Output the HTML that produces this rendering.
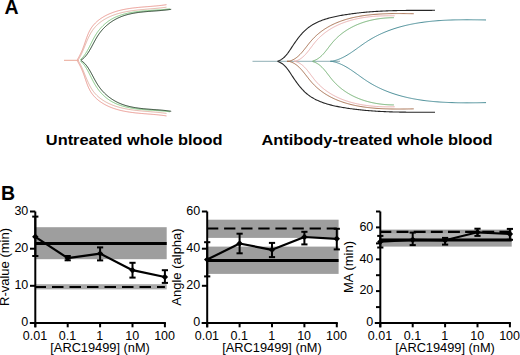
<!DOCTYPE html>
<html><head><meta charset="utf-8"><style>
html,body{margin:0;padding:0;background:#fff;}
body{width:520px;height:355px;overflow:hidden;font-family:"Liberation Sans",sans-serif;}
svg{display:block;}
</style></head><body>
<svg width="520" height="355" viewBox="0 0 520 355">
<text x="4.6" y="13.6" font-size="19.5" font-weight="bold" font-family="Liberation Sans, sans-serif">A</text>
<line x1="64" y1="60.3" x2="79" y2="60.3" stroke="#eaa898" stroke-width="1"/>
<path d="M77.25,59.87 L77.61,59.31 L77.95,58.71 L78.29,58.10 L78.63,57.49 L78.96,56.88 L79.30,56.25 L79.63,55.62 L79.96,54.98 L80.28,54.34 L80.60,53.69 L80.92,53.04 L81.23,52.37 L81.54,51.70 L81.84,51.03 L82.13,50.35 L82.42,49.66 L82.70,48.97 L82.97,48.27 L83.24,47.56 L83.50,46.85 L83.76,46.14 L84.02,45.42 L84.27,44.70 L84.52,43.98 L84.76,43.25 L85.01,42.53 L85.25,41.80 L85.50,41.08 L85.75,40.35 L86.00,39.63 L86.25,38.90 L86.50,38.18 L86.76,37.46 L87.03,36.75 L87.30,36.04 L87.58,35.33 L87.86,34.64 L88.15,33.94 L88.45,33.25 L88.76,32.57 L89.08,31.90 L89.41,31.24 L89.75,30.58 L90.10,29.93 L90.46,29.30 L90.84,28.67 L91.24,28.06 L91.64,27.46 L92.06,26.86 L92.50,26.28 L92.95,25.71 L93.40,25.15 L93.88,24.60 L94.36,24.07 L94.86,23.54 L95.36,23.02 L95.88,22.52 L96.41,22.02 L96.95,21.53 L97.50,21.06 L98.06,20.59 L98.62,20.14 L99.20,19.69 L99.79,19.25 L100.38,18.83 L100.99,18.41 L101.60,18.00 L102.22,17.61 L102.84,17.22 L103.47,16.84 L104.11,16.47 L104.76,16.11 L105.41,15.76 L106.07,15.42 L106.73,15.09 L107.40,14.76 L108.07,14.45 L108.75,14.14 L109.43,13.84 L110.12,13.55 L110.81,13.27 L111.50,13.00 L112.20,12.74 L112.89,12.48 L113.59,12.23 L114.30,11.99 L115.00,11.76 L115.71,11.54 L116.42,11.32 L117.13,11.11 L117.85,10.91 L118.57,10.71 L119.29,10.52 L120.01,10.34 L120.73,10.16 L121.46,9.99 L122.18,9.83 L122.91,9.67 L123.64,9.52 L124.37,9.37 L125.11,9.23 L125.84,9.09 L126.58,8.96 L127.32,8.84 L128.05,8.71 L128.80,8.60 L129.54,8.48 L130.28,8.37 L131.02,8.27 L131.77,8.17 L132.51,8.07 L133.26,7.98 L134.00,7.89 L134.75,7.80 L135.50,7.72 L136.25,7.63 L137.00,7.56 L137.74,7.48 L138.49,7.41 L139.24,7.33 L139.99,7.26 L140.74,7.20 L141.49,7.13 L142.24,7.07 L142.99,7.00 L143.74,6.94 L144.49,6.88 L145.24,6.82 L145.99,6.76 L146.73,6.70 L147.48,6.64 L148.23,6.58 L148.97,6.52 L149.72,6.46 L150.46,6.41 L151.21,6.35 L151.95,6.28 L152.69,6.22 L153.43,6.16 L154.17,6.10 L154.91,6.03 L155.64,5.97 L156.38,5.90 L157.11,5.83 L157.85,5.76 L158.58,5.68 L159.30,5.60 L160.03,5.53 L160.76,5.44 L161.48,5.36 L162.20,5.27 L162.92,5.18 L163.64,5.09 L164.35,4.99 L165.07,4.89 L165.78,4.78 L166.48,4.67" fill="none" stroke="#e89088" stroke-width="0.9"/>
<path d="M77.25,60.73 L77.61,61.29 L77.95,61.89 L78.29,62.50 L78.63,63.11 L78.96,63.72 L79.30,64.35 L79.63,64.98 L79.96,65.62 L80.28,66.26 L80.60,66.91 L80.92,67.56 L81.23,68.23 L81.54,68.90 L81.84,69.57 L82.13,70.25 L82.42,70.94 L82.70,71.63 L82.97,72.33 L83.24,73.04 L83.50,73.75 L83.76,74.46 L84.02,75.18 L84.27,75.90 L84.52,76.62 L84.76,77.35 L85.01,78.07 L85.25,78.80 L85.50,79.52 L85.75,80.25 L86.00,80.97 L86.25,81.70 L86.50,82.42 L86.76,83.14 L87.03,83.85 L87.30,84.56 L87.58,85.27 L87.86,85.96 L88.15,86.66 L88.45,87.35 L88.76,88.03 L89.08,88.70 L89.41,89.36 L89.75,90.02 L90.10,90.67 L90.46,91.30 L90.84,91.93 L91.24,92.54 L91.64,93.14 L92.06,93.74 L92.50,94.32 L92.95,94.89 L93.40,95.45 L93.88,96.00 L94.36,96.53 L94.86,97.06 L95.36,97.58 L95.88,98.08 L96.41,98.58 L96.95,99.07 L97.50,99.54 L98.06,100.01 L98.62,100.46 L99.20,100.91 L99.79,101.35 L100.38,101.77 L100.99,102.19 L101.60,102.60 L102.22,102.99 L102.84,103.38 L103.47,103.76 L104.11,104.13 L104.76,104.49 L105.41,104.84 L106.07,105.18 L106.73,105.51 L107.40,105.84 L108.07,106.15 L108.75,106.46 L109.43,106.76 L110.12,107.05 L110.81,107.33 L111.50,107.60 L112.20,107.86 L112.89,108.12 L113.59,108.37 L114.30,108.61 L115.00,108.84 L115.71,109.06 L116.42,109.28 L117.13,109.49 L117.85,109.69 L118.57,109.89 L119.29,110.08 L120.01,110.26 L120.73,110.44 L121.46,110.61 L122.18,110.77 L122.91,110.93 L123.64,111.08 L124.37,111.23 L125.11,111.37 L125.84,111.51 L126.58,111.64 L127.32,111.76 L128.05,111.89 L128.80,112.00 L129.54,112.12 L130.28,112.23 L131.02,112.33 L131.77,112.43 L132.51,112.53 L133.26,112.62 L134.00,112.71 L134.75,112.80 L135.50,112.88 L136.25,112.97 L137.00,113.04 L137.74,113.12 L138.49,113.19 L139.24,113.27 L139.99,113.34 L140.74,113.40 L141.49,113.47 L142.24,113.53 L142.99,113.60 L143.74,113.66 L144.49,113.72 L145.24,113.78 L145.99,113.84 L146.73,113.90 L147.48,113.96 L148.23,114.02 L148.97,114.08 L149.72,114.14 L150.46,114.19 L151.21,114.25 L151.95,114.32 L152.69,114.38 L153.43,114.44 L154.17,114.50 L154.91,114.57 L155.64,114.63 L156.38,114.70 L157.11,114.77 L157.85,114.84 L158.58,114.92 L159.30,115.00 L160.03,115.07 L160.76,115.16 L161.48,115.24 L162.20,115.33 L162.92,115.42 L163.64,115.51 L164.35,115.61 L165.07,115.71 L165.78,115.82 L166.48,115.93" fill="none" stroke="#e89088" stroke-width="0.9"/>
<path d="M78.25,59.77 L78.61,59.21 L78.96,58.64 L79.30,58.06 L79.64,57.47 L79.97,56.88 L80.29,56.27 L80.61,55.66 L80.92,55.04 L81.23,54.41 L81.53,53.77 L81.82,53.13 L82.12,52.49 L82.41,51.83 L82.70,51.18 L82.98,50.51 L83.26,49.85 L83.54,49.18 L83.82,48.50 L84.10,47.83 L84.38,47.15 L84.65,46.47 L84.93,45.79 L85.21,45.11 L85.49,44.42 L85.77,43.74 L86.05,43.06 L86.33,42.38 L86.62,41.69 L86.91,41.01 L87.20,40.34 L87.50,39.66 L87.80,38.99 L88.10,38.32 L88.42,37.66 L88.73,36.99 L89.05,36.34 L89.38,35.69 L89.72,35.04 L90.06,34.40 L90.41,33.77 L90.76,33.14 L91.13,32.52 L91.50,31.91 L91.89,31.31 L92.28,30.71 L92.68,30.12 L93.09,29.55 L93.52,28.98 L93.95,28.42 L94.40,27.88 L94.85,27.34 L95.32,26.81 L95.79,26.30 L96.28,25.79 L96.78,25.29 L97.28,24.81 L97.79,24.33 L98.32,23.86 L98.85,23.40 L99.39,22.95 L99.94,22.51 L100.50,22.08 L101.06,21.66 L101.63,21.25 L102.21,20.85 L102.80,20.45 L103.39,20.07 L104.00,19.69 L104.60,19.33 L105.22,18.97 L105.84,18.62 L106.46,18.28 L107.09,17.95 L107.73,17.62 L108.37,17.31 L109.02,17.00 L109.67,16.70 L110.32,16.41 L110.98,16.12 L111.65,15.85 L112.31,15.58 L112.99,15.32 L113.66,15.07 L114.34,14.83 L115.02,14.59 L115.71,14.36 L116.39,14.14 L117.08,13.92 L117.78,13.71 L118.48,13.51 L119.18,13.31 L119.88,13.13 L120.58,12.94 L121.29,12.76 L122.00,12.59 L122.71,12.43 L123.43,12.27 L124.14,12.11 L124.86,11.96 L125.58,11.82 L126.30,11.68 L127.03,11.54 L127.75,11.41 L128.48,11.29 L129.21,11.16 L129.94,11.05 L130.67,10.93 L131.40,10.82 L132.13,10.72 L132.86,10.62 L133.60,10.52 L134.33,10.42 L135.07,10.33 L135.81,10.24 L136.54,10.16 L137.28,10.07 L138.01,9.99 L138.75,9.91 L139.49,9.84 L140.22,9.76 L140.96,9.69 L141.70,9.62 L142.43,9.55 L143.17,9.49 L143.90,9.42 L144.63,9.36 L145.37,9.29 L146.10,9.23 L146.83,9.17 L147.56,9.11 L148.29,9.05 L149.01,8.99 L149.74,8.93 L150.46,8.87 L151.19,8.81 L151.91,8.75 L152.63,8.69 L153.34,8.63 L154.06,8.57 L154.77,8.50 L155.48,8.44 L156.19,8.38 L156.89,8.31 L157.60,8.24 L158.30,8.17 L159.00,8.10 L159.69,8.03 L160.38,7.96 L161.07,7.88 L161.76,7.80 L162.44,7.72 L163.12,7.63 L163.79,7.55 L164.47,7.46 L165.13,7.37 L165.80,7.27 L166.46,7.17" fill="none" stroke="#dca898" stroke-width="0.9"/>
<path d="M78.25,60.83 L78.61,61.39 L78.96,61.96 L79.30,62.54 L79.64,63.13 L79.97,63.72 L80.29,64.33 L80.61,64.94 L80.92,65.56 L81.23,66.19 L81.53,66.83 L81.82,67.47 L82.12,68.11 L82.41,68.77 L82.70,69.42 L82.98,70.09 L83.26,70.75 L83.54,71.42 L83.82,72.10 L84.10,72.77 L84.38,73.45 L84.65,74.13 L84.93,74.81 L85.21,75.49 L85.49,76.18 L85.77,76.86 L86.05,77.54 L86.33,78.22 L86.62,78.91 L86.91,79.59 L87.20,80.26 L87.50,80.94 L87.80,81.61 L88.10,82.28 L88.42,82.94 L88.73,83.61 L89.05,84.26 L89.38,84.91 L89.72,85.56 L90.06,86.20 L90.41,86.83 L90.76,87.46 L91.13,88.08 L91.50,88.69 L91.89,89.29 L92.28,89.89 L92.68,90.48 L93.09,91.05 L93.52,91.62 L93.95,92.18 L94.40,92.72 L94.85,93.26 L95.32,93.79 L95.79,94.30 L96.28,94.81 L96.78,95.31 L97.28,95.79 L97.79,96.27 L98.32,96.74 L98.85,97.20 L99.39,97.65 L99.94,98.09 L100.50,98.52 L101.06,98.94 L101.63,99.35 L102.21,99.75 L102.80,100.15 L103.39,100.53 L104.00,100.91 L104.60,101.27 L105.22,101.63 L105.84,101.98 L106.46,102.32 L107.09,102.65 L107.73,102.98 L108.37,103.29 L109.02,103.60 L109.67,103.90 L110.32,104.19 L110.98,104.48 L111.65,104.75 L112.31,105.02 L112.99,105.28 L113.66,105.53 L114.34,105.77 L115.02,106.01 L115.71,106.24 L116.39,106.46 L117.08,106.68 L117.78,106.89 L118.48,107.09 L119.18,107.29 L119.88,107.47 L120.58,107.66 L121.29,107.84 L122.00,108.01 L122.71,108.17 L123.43,108.33 L124.14,108.49 L124.86,108.64 L125.58,108.78 L126.30,108.92 L127.03,109.06 L127.75,109.19 L128.48,109.31 L129.21,109.44 L129.94,109.55 L130.67,109.67 L131.40,109.78 L132.13,109.88 L132.86,109.98 L133.60,110.08 L134.33,110.18 L135.07,110.27 L135.81,110.36 L136.54,110.44 L137.28,110.53 L138.01,110.61 L138.75,110.69 L139.49,110.76 L140.22,110.84 L140.96,110.91 L141.70,110.98 L142.43,111.05 L143.17,111.11 L143.90,111.18 L144.63,111.24 L145.37,111.31 L146.10,111.37 L146.83,111.43 L147.56,111.49 L148.29,111.55 L149.01,111.61 L149.74,111.67 L150.46,111.73 L151.19,111.79 L151.91,111.85 L152.63,111.91 L153.34,111.97 L154.06,112.03 L154.77,112.10 L155.48,112.16 L156.19,112.22 L156.89,112.29 L157.60,112.36 L158.30,112.43 L159.00,112.50 L159.69,112.57 L160.38,112.64 L161.07,112.72 L161.76,112.80 L162.44,112.88 L163.12,112.97 L163.79,113.05 L164.47,113.14 L165.13,113.23 L165.80,113.33 L166.46,113.43" fill="none" stroke="#dca898" stroke-width="0.9"/>
<path d="M80.10,59.88 L80.62,59.45 L81.12,59.00 L81.61,58.53 L82.08,58.05 L82.54,57.55 L82.99,57.04 L83.43,56.52 L83.85,55.98 L84.27,55.43 L84.68,54.87 L85.07,54.31 L85.46,53.73 L85.84,53.14 L86.21,52.54 L86.58,51.94 L86.94,51.33 L87.29,50.71 L87.64,50.09 L87.99,49.46 L88.33,48.82 L88.67,48.19 L89.00,47.54 L89.34,46.90 L89.67,46.25 L90.00,45.59 L90.32,44.94 L90.65,44.28 L90.98,43.62 L91.31,42.97 L91.64,42.31 L91.97,41.65 L92.30,40.99 L92.64,40.34 L92.98,39.69 L93.32,39.03 L93.67,38.39 L94.02,37.74 L94.38,37.10 L94.74,36.46 L95.11,35.83 L95.49,35.21 L95.87,34.59 L96.27,33.97 L96.66,33.36 L97.07,32.76 L97.49,32.17 L97.91,31.58 L98.34,31.00 L98.78,30.43 L99.22,29.87 L99.68,29.31 L100.14,28.76 L100.61,28.22 L101.08,27.68 L101.57,27.16 L102.06,26.64 L102.55,26.13 L103.06,25.63 L103.57,25.14 L104.09,24.66 L104.61,24.18 L105.15,23.72 L105.69,23.26 L106.23,22.81 L106.79,22.38 L107.35,21.95 L107.91,21.53 L108.49,21.12 L109.07,20.72 L109.65,20.33 L110.24,19.95 L110.84,19.59 L111.45,19.23 L112.06,18.88 L112.68,18.54 L113.30,18.21 L113.93,17.89 L114.56,17.58 L115.20,17.28 L115.85,16.99 L116.50,16.71 L117.15,16.44 L117.81,16.17 L118.48,15.92 L119.15,15.67 L119.82,15.43 L120.50,15.20 L121.18,14.97 L121.87,14.75 L122.56,14.54 L123.26,14.34 L123.95,14.15 L124.66,13.96 L125.36,13.78 L126.07,13.60 L126.78,13.43 L127.49,13.27 L128.21,13.11 L128.93,12.96 L129.65,12.82 L130.38,12.68 L131.11,12.55 L131.83,12.42 L132.57,12.30 L133.30,12.18 L134.03,12.06 L134.77,11.96 L135.51,11.85 L136.25,11.75 L136.99,11.65 L137.73,11.56 L138.47,11.47 L139.21,11.39 L139.96,11.31 L140.70,11.23 L141.45,11.16 L142.19,11.08 L142.94,11.01 L143.68,10.95 L144.43,10.88 L145.17,10.82 L145.91,10.76 L146.66,10.70 L147.40,10.65 L148.14,10.59 L148.88,10.54 L149.62,10.49 L150.36,10.44 L151.10,10.39 L151.83,10.34 L152.57,10.29 L153.30,10.24 L154.03,10.20 L154.75,10.15 L155.48,10.10 L156.20,10.05 L156.92,10.01 L157.64,9.96 L158.36,9.91 L159.07,9.86 L159.78,9.81 L160.48,9.76 L161.18,9.70 L161.88,9.65 L162.58,9.59 L163.27,9.53 L163.96,9.47 L164.64,9.41 L165.32,9.34 L166.00,9.27 L166.67,9.20 L167.33,9.13 L167.99,9.05 L168.65,8.97 L169.30,8.89 L169.95,8.80" fill="none" stroke="#80c880" stroke-width="1.0"/>
<path d="M80.10,60.72 L80.62,61.15 L81.12,61.60 L81.61,62.07 L82.08,62.55 L82.54,63.05 L82.99,63.56 L83.43,64.08 L83.85,64.62 L84.27,65.17 L84.68,65.73 L85.07,66.29 L85.46,66.87 L85.84,67.46 L86.21,68.06 L86.58,68.66 L86.94,69.27 L87.29,69.89 L87.64,70.51 L87.99,71.14 L88.33,71.78 L88.67,72.41 L89.00,73.06 L89.34,73.70 L89.67,74.35 L90.00,75.01 L90.32,75.66 L90.65,76.32 L90.98,76.98 L91.31,77.63 L91.64,78.29 L91.97,78.95 L92.30,79.61 L92.64,80.26 L92.98,80.91 L93.32,81.57 L93.67,82.21 L94.02,82.86 L94.38,83.50 L94.74,84.14 L95.11,84.77 L95.49,85.39 L95.87,86.01 L96.27,86.63 L96.66,87.24 L97.07,87.84 L97.49,88.43 L97.91,89.02 L98.34,89.60 L98.78,90.17 L99.22,90.73 L99.68,91.29 L100.14,91.84 L100.61,92.38 L101.08,92.92 L101.57,93.44 L102.06,93.96 L102.55,94.47 L103.06,94.97 L103.57,95.46 L104.09,95.94 L104.61,96.42 L105.15,96.88 L105.69,97.34 L106.23,97.79 L106.79,98.22 L107.35,98.65 L107.91,99.07 L108.49,99.48 L109.07,99.88 L109.65,100.27 L110.24,100.65 L110.84,101.01 L111.45,101.37 L112.06,101.72 L112.68,102.06 L113.30,102.39 L113.93,102.71 L114.56,103.02 L115.20,103.32 L115.85,103.61 L116.50,103.89 L117.15,104.16 L117.81,104.43 L118.48,104.68 L119.15,104.93 L119.82,105.17 L120.50,105.40 L121.18,105.63 L121.87,105.85 L122.56,106.06 L123.26,106.26 L123.95,106.45 L124.66,106.64 L125.36,106.82 L126.07,107.00 L126.78,107.17 L127.49,107.33 L128.21,107.49 L128.93,107.64 L129.65,107.78 L130.38,107.92 L131.11,108.05 L131.83,108.18 L132.57,108.30 L133.30,108.42 L134.03,108.54 L134.77,108.64 L135.51,108.75 L136.25,108.85 L136.99,108.95 L137.73,109.04 L138.47,109.13 L139.21,109.21 L139.96,109.29 L140.70,109.37 L141.45,109.44 L142.19,109.52 L142.94,109.59 L143.68,109.65 L144.43,109.72 L145.17,109.78 L145.91,109.84 L146.66,109.90 L147.40,109.95 L148.14,110.01 L148.88,110.06 L149.62,110.11 L150.36,110.16 L151.10,110.21 L151.83,110.26 L152.57,110.31 L153.30,110.36 L154.03,110.40 L154.75,110.45 L155.48,110.50 L156.20,110.55 L156.92,110.59 L157.64,110.64 L158.36,110.69 L159.07,110.74 L159.78,110.79 L160.48,110.84 L161.18,110.90 L161.88,110.95 L162.58,111.01 L163.27,111.07 L163.96,111.13 L164.64,111.19 L165.32,111.26 L166.00,111.33 L166.67,111.40 L167.33,111.47 L167.99,111.55 L168.65,111.63 L169.30,111.71 L169.95,111.80" fill="none" stroke="#80c880" stroke-width="1.0"/>
<path d="M81.12,60.00 L81.70,59.64 L82.25,59.25 L82.79,58.84 L83.31,58.41 L83.82,57.96 L84.31,57.49 L84.79,57.01 L85.25,56.51 L85.70,55.99 L86.13,55.46 L86.56,54.92 L86.98,54.36 L87.38,53.80 L87.78,53.22 L88.17,52.64 L88.55,52.05 L88.93,51.45 L89.30,50.84 L89.67,50.23 L90.03,49.62 L90.38,49.00 L90.74,48.37 L91.09,47.74 L91.43,47.11 L91.78,46.47 L92.12,45.84 L92.46,45.20 L92.80,44.55 L93.15,43.91 L93.49,43.27 L93.83,42.63 L94.17,41.99 L94.52,41.34 L94.87,40.70 L95.22,40.07 L95.58,39.43 L95.94,38.80 L96.30,38.17 L96.67,37.55 L97.04,36.93 L97.43,36.31 L97.81,35.70 L98.21,35.10 L98.61,34.50 L99.02,33.91 L99.44,33.32 L99.87,32.75 L100.30,32.18 L100.75,31.62 L101.20,31.06 L101.66,30.51 L102.12,29.97 L102.60,29.44 L103.08,28.92 L103.57,28.40 L104.07,27.89 L104.57,27.39 L105.08,26.89 L105.60,26.41 L106.13,25.93 L106.66,25.46 L107.19,25.00 L107.74,24.54 L108.29,24.10 L108.85,23.66 L109.41,23.23 L109.98,22.81 L110.55,22.39 L111.13,21.99 L111.72,21.59 L112.31,21.20 L112.91,20.82 L113.51,20.45 L114.11,20.09 L114.73,19.73 L115.34,19.39 L115.97,19.05 L116.59,18.72 L117.22,18.40 L117.86,18.09 L118.50,17.79 L119.14,17.50 L119.79,17.22 L120.44,16.95 L121.09,16.68 L121.75,16.42 L122.42,16.18 L123.08,15.94 L123.75,15.71 L124.43,15.49 L125.10,15.27 L125.78,15.07 L126.46,14.87 L127.15,14.68 L127.84,14.49 L128.53,14.32 L129.22,14.15 L129.92,13.98 L130.61,13.83 L131.32,13.67 L132.02,13.53 L132.72,13.39 L133.43,13.26 L134.14,13.13 L134.85,13.01 L135.56,12.89 L136.28,12.78 L136.99,12.67 L137.71,12.57 L138.43,12.47 L139.15,12.37 L139.87,12.28 L140.59,12.20 L141.31,12.11 L142.03,12.03 L142.76,11.96 L143.48,11.88 L144.21,11.81 L144.93,11.74 L145.66,11.68 L146.39,11.61 L147.11,11.55 L147.84,11.49 L148.57,11.43 L149.29,11.37 L150.02,11.32 L150.74,11.27 L151.47,11.21 L152.19,11.16 L152.92,11.11 L153.64,11.05 L154.36,11.00 L155.08,10.95 L155.80,10.90 L156.52,10.85 L157.24,10.79 L157.96,10.74 L158.67,10.68 L159.38,10.63 L160.09,10.57 L160.80,10.51 L161.51,10.45 L162.22,10.39 L162.92,10.32 L163.62,10.25 L164.32,10.18 L165.02,10.11 L165.72,10.03 L166.41,9.95 L167.10,9.87 L167.78,9.79 L168.47,9.70 L169.15,9.60 L169.83,9.51 L170.50,9.40 L171.17,9.30" fill="none" stroke="#1e3a22" stroke-width="1.0"/>
<path d="M81.12,60.60 L81.70,60.96 L82.25,61.35 L82.79,61.76 L83.31,62.19 L83.82,62.64 L84.31,63.11 L84.79,63.59 L85.25,64.09 L85.70,64.61 L86.13,65.14 L86.56,65.68 L86.98,66.24 L87.38,66.80 L87.78,67.38 L88.17,67.96 L88.55,68.55 L88.93,69.15 L89.30,69.76 L89.67,70.37 L90.03,70.98 L90.38,71.60 L90.74,72.23 L91.09,72.86 L91.43,73.49 L91.78,74.13 L92.12,74.76 L92.46,75.40 L92.80,76.05 L93.15,76.69 L93.49,77.33 L93.83,77.97 L94.17,78.61 L94.52,79.26 L94.87,79.90 L95.22,80.53 L95.58,81.17 L95.94,81.80 L96.30,82.43 L96.67,83.05 L97.04,83.67 L97.43,84.29 L97.81,84.90 L98.21,85.50 L98.61,86.10 L99.02,86.69 L99.44,87.28 L99.87,87.85 L100.30,88.42 L100.75,88.98 L101.20,89.54 L101.66,90.09 L102.12,90.63 L102.60,91.16 L103.08,91.68 L103.57,92.20 L104.07,92.71 L104.57,93.21 L105.08,93.71 L105.60,94.19 L106.13,94.67 L106.66,95.14 L107.19,95.60 L107.74,96.06 L108.29,96.50 L108.85,96.94 L109.41,97.37 L109.98,97.79 L110.55,98.21 L111.13,98.61 L111.72,99.01 L112.31,99.40 L112.91,99.78 L113.51,100.15 L114.11,100.51 L114.73,100.87 L115.34,101.21 L115.97,101.55 L116.59,101.88 L117.22,102.20 L117.86,102.51 L118.50,102.81 L119.14,103.10 L119.79,103.38 L120.44,103.65 L121.09,103.92 L121.75,104.18 L122.42,104.42 L123.08,104.66 L123.75,104.89 L124.43,105.11 L125.10,105.33 L125.78,105.53 L126.46,105.73 L127.15,105.92 L127.84,106.11 L128.53,106.28 L129.22,106.45 L129.92,106.62 L130.61,106.77 L131.32,106.93 L132.02,107.07 L132.72,107.21 L133.43,107.34 L134.14,107.47 L134.85,107.59 L135.56,107.71 L136.28,107.82 L136.99,107.93 L137.71,108.03 L138.43,108.13 L139.15,108.23 L139.87,108.32 L140.59,108.40 L141.31,108.49 L142.03,108.57 L142.76,108.64 L143.48,108.72 L144.21,108.79 L144.93,108.86 L145.66,108.92 L146.39,108.99 L147.11,109.05 L147.84,109.11 L148.57,109.17 L149.29,109.23 L150.02,109.28 L150.74,109.33 L151.47,109.39 L152.19,109.44 L152.92,109.49 L153.64,109.55 L154.36,109.60 L155.08,109.65 L155.80,109.70 L156.52,109.75 L157.24,109.81 L157.96,109.86 L158.67,109.92 L159.38,109.97 L160.09,110.03 L160.80,110.09 L161.51,110.15 L162.22,110.21 L162.92,110.28 L163.62,110.35 L164.32,110.42 L165.02,110.49 L165.72,110.57 L166.41,110.65 L167.10,110.73 L167.78,110.81 L168.47,110.90 L169.15,111.00 L169.83,111.09 L170.50,111.20 L171.17,111.30" fill="none" stroke="#1e3a22" stroke-width="1.0"/>
<line x1="252.5" y1="61.3" x2="340" y2="61.3" stroke="#90b0b6" stroke-width="1"/>
<path d="M330.43,61.30 L331.49,61.29 L332.53,61.10 L333.56,60.88 L334.57,60.63 L335.58,60.35 L336.58,60.05 L337.56,59.72 L338.54,59.36 L339.51,58.98 L340.47,58.58 L341.42,58.15 L342.36,57.71 L343.30,57.25 L344.23,56.77 L345.15,56.27 L346.06,55.75 L346.97,55.22 L347.88,54.68 L348.78,54.12 L349.68,53.55 L350.57,52.97 L351.46,52.38 L352.34,51.78 L353.22,51.17 L354.10,50.56 L354.98,49.94 L355.86,49.32 L356.74,48.69 L357.61,48.06 L358.49,47.43 L359.36,46.80 L360.24,46.17 L361.12,45.54 L361.99,44.92 L362.87,44.30 L363.76,43.68 L364.64,43.07 L365.53,42.47 L366.43,41.87 L367.32,41.29 L368.23,40.71 L369.13,40.15 L370.04,39.59 L370.96,39.05 L371.88,38.51 L372.80,37.99 L373.73,37.47 L374.66,36.96 L375.59,36.47 L376.53,35.98 L377.48,35.50 L378.42,35.03 L379.37,34.57 L380.33,34.12 L381.29,33.68 L382.25,33.25 L383.21,32.83 L384.18,32.41 L385.15,32.01 L386.13,31.61 L387.11,31.22 L388.09,30.84 L389.08,30.46 L390.07,30.10 L391.06,29.74 L392.05,29.40 L393.05,29.05 L394.05,28.72 L395.05,28.40 L396.06,28.08 L397.07,27.77 L398.08,27.47 L399.10,27.17 L400.11,26.89 L401.13,26.61 L402.16,26.33 L403.18,26.07 L404.21,25.81 L405.24,25.56 L406.27,25.31 L407.30,25.07 L408.34,24.84 L409.38,24.62 L410.42,24.40 L411.46,24.19 L412.51,23.98 L413.55,23.78 L414.60,23.59 L415.65,23.40 L416.70,23.22 L417.75,23.04 L418.81,22.87 L419.86,22.71 L420.92,22.55 L421.98,22.40 L423.04,22.25 L424.10,22.10 L425.17,21.97 L426.23,21.83 L427.30,21.71 L428.36,21.59 L429.43,21.47 L430.50,21.36 L431.57,21.25 L432.64,21.14 L433.71,21.05 L434.78,20.95 L435.85,20.86 L436.93,20.78 L438.00,20.70 L439.08,20.62 L440.15,20.55 L441.23,20.48 L442.30,20.41 L443.38,20.35 L444.45,20.29 L445.53,20.24 L446.61,20.19 L447.68,20.14 L448.76,20.09 L449.84,20.05 L450.91,20.02 L451.99,19.98 L453.07,19.95 L454.14,19.92 L455.22,19.89 L456.29,19.87 L457.37,19.85 L458.44,19.83 L459.51,19.82 L460.59,19.80 L461.66,19.79 L462.73,19.78 L463.80,19.78 L464.87,19.77 L465.94,19.77 L467.01,19.77 L468.08,19.77 L469.15,19.77 L470.21,19.78 L471.28,19.78 L472.34,19.79 L473.40,19.80 L474.46,19.81 L475.52,19.82 L476.58,19.83 L477.63,19.84 L478.69,19.86 L479.74,19.87 L480.79,19.89 L481.84,19.90 L482.89,19.92 L483.94,19.93 L484.98,19.95 L486.02,19.97" fill="none" stroke="#4a8e98" stroke-width="1.0"/>
<path d="M330.43,61.30 L331.49,61.31 L332.53,61.50 L333.56,61.72 L334.57,61.97 L335.58,62.25 L336.58,62.55 L337.56,62.88 L338.54,63.24 L339.51,63.62 L340.47,64.02 L341.42,64.45 L342.36,64.89 L343.30,65.35 L344.23,65.83 L345.15,66.33 L346.06,66.85 L346.97,67.38 L347.88,67.92 L348.78,68.48 L349.68,69.05 L350.57,69.63 L351.46,70.22 L352.34,70.82 L353.22,71.43 L354.10,72.04 L354.98,72.66 L355.86,73.28 L356.74,73.91 L357.61,74.54 L358.49,75.17 L359.36,75.80 L360.24,76.43 L361.12,77.06 L361.99,77.68 L362.87,78.30 L363.76,78.92 L364.64,79.53 L365.53,80.13 L366.43,80.73 L367.32,81.31 L368.23,81.89 L369.13,82.45 L370.04,83.01 L370.96,83.55 L371.88,84.09 L372.80,84.61 L373.73,85.13 L374.66,85.64 L375.59,86.13 L376.53,86.62 L377.48,87.10 L378.42,87.57 L379.37,88.03 L380.33,88.48 L381.29,88.92 L382.25,89.35 L383.21,89.77 L384.18,90.19 L385.15,90.59 L386.13,90.99 L387.11,91.38 L388.09,91.76 L389.08,92.14 L390.07,92.50 L391.06,92.86 L392.05,93.20 L393.05,93.55 L394.05,93.88 L395.05,94.20 L396.06,94.52 L397.07,94.83 L398.08,95.13 L399.10,95.43 L400.11,95.71 L401.13,95.99 L402.16,96.27 L403.18,96.53 L404.21,96.79 L405.24,97.04 L406.27,97.29 L407.30,97.53 L408.34,97.76 L409.38,97.98 L410.42,98.20 L411.46,98.41 L412.51,98.62 L413.55,98.82 L414.60,99.01 L415.65,99.20 L416.70,99.38 L417.75,99.56 L418.81,99.73 L419.86,99.89 L420.92,100.05 L421.98,100.20 L423.04,100.35 L424.10,100.50 L425.17,100.63 L426.23,100.77 L427.30,100.89 L428.36,101.01 L429.43,101.13 L430.50,101.24 L431.57,101.35 L432.64,101.46 L433.71,101.55 L434.78,101.65 L435.85,101.74 L436.93,101.82 L438.00,101.90 L439.08,101.98 L440.15,102.05 L441.23,102.12 L442.30,102.19 L443.38,102.25 L444.45,102.31 L445.53,102.36 L446.61,102.41 L447.68,102.46 L448.76,102.51 L449.84,102.55 L450.91,102.58 L451.99,102.62 L453.07,102.65 L454.14,102.68 L455.22,102.71 L456.29,102.73 L457.37,102.75 L458.44,102.77 L459.51,102.78 L460.59,102.80 L461.66,102.81 L462.73,102.82 L463.80,102.82 L464.87,102.83 L465.94,102.83 L467.01,102.83 L468.08,102.83 L469.15,102.83 L470.21,102.82 L471.28,102.82 L472.34,102.81 L473.40,102.80 L474.46,102.79 L475.52,102.78 L476.58,102.77 L477.63,102.76 L478.69,102.74 L479.74,102.73 L480.79,102.71 L481.84,102.70 L482.89,102.68 L483.94,102.67 L484.98,102.65 L486.02,102.63" fill="none" stroke="#4a8e98" stroke-width="1.0"/>
<path d="M312.62,61.03 L313.23,60.86 L313.83,60.67 L314.42,60.46 L314.99,60.23 L315.55,59.99 L316.10,59.72 L316.63,59.44 L317.16,59.14 L317.68,58.83 L318.18,58.50 L318.68,58.16 L319.17,57.80 L319.65,57.43 L320.12,57.04 L320.59,56.65 L321.04,56.24 L321.49,55.82 L321.94,55.39 L322.37,54.95 L322.80,54.50 L323.23,54.05 L323.65,53.58 L324.07,53.11 L324.48,52.63 L324.89,52.14 L325.29,51.65 L325.70,51.16 L326.10,50.66 L326.49,50.15 L326.89,49.64 L327.28,49.13 L327.68,48.62 L328.07,48.10 L328.46,47.59 L328.86,47.07 L329.25,46.56 L329.65,46.04 L330.04,45.53 L330.44,45.02 L330.84,44.51 L331.25,44.00 L331.65,43.50 L332.06,43.01 L332.48,42.52 L332.89,42.03 L333.32,41.55 L333.74,41.07 L334.17,40.60 L334.61,40.14 L335.05,39.68 L335.49,39.22 L335.93,38.77 L336.38,38.33 L336.84,37.89 L337.29,37.46 L337.76,37.03 L338.22,36.61 L338.69,36.19 L339.16,35.78 L339.64,35.37 L340.12,34.97 L340.60,34.57 L341.09,34.18 L341.57,33.79 L342.07,33.41 L342.56,33.03 L343.06,32.66 L343.57,32.29 L344.07,31.93 L344.58,31.57 L345.10,31.22 L345.61,30.88 L346.13,30.53 L346.65,30.20 L347.18,29.86 L347.71,29.54 L348.24,29.21 L348.77,28.90 L349.31,28.58 L349.85,28.27 L350.39,27.97 L350.94,27.67 L351.48,27.38 L352.03,27.09 L352.59,26.81 L353.14,26.53 L353.70,26.25 L354.26,25.98 L354.83,25.72 L355.39,25.45 L355.96,25.20 L356.53,24.95 L357.11,24.70 L357.68,24.46 L358.26,24.22 L358.84,23.99 L359.43,23.76 L360.01,23.53 L360.60,23.31 L361.19,23.10 L361.78,22.89 L362.37,22.68 L362.97,22.48 L363.56,22.28 L364.16,22.09 L364.77,21.90 L365.37,21.71 L365.97,21.53 L366.58,21.36 L367.19,21.19 L367.80,21.02 L368.41,20.86 L369.03,20.70 L369.64,20.54 L370.26,20.39 L370.88,20.25 L371.50,20.11 L372.12,19.97 L372.74,19.84 L373.37,19.71 L373.99,19.58 L374.62,19.46 L375.25,19.35 L375.88,19.23 L376.51,19.12 L377.14,19.02 L377.78,18.92 L378.41,18.82 L379.05,18.73 L379.68,18.64 L380.32,18.56 L380.96,18.48 L381.60,18.40 L382.24,18.33 L382.88,18.26 L383.52,18.19 L384.17,18.13 L384.81,18.08 L385.45,18.02 L386.10,17.97 L386.75,17.93 L387.39,17.89 L388.04,17.85 L388.69,17.81 L389.34,17.78 L389.98,17.76 L390.63,17.73 L391.28,17.71 L391.93,17.70 L392.58,17.69 L393.23,17.68 L393.88,17.67" fill="none" stroke="#70b070" stroke-width="1.0"/>
<path d="M312.62,61.57 L313.23,61.74 L313.83,61.93 L314.42,62.14 L314.99,62.37 L315.55,62.61 L316.10,62.88 L316.63,63.16 L317.16,63.46 L317.68,63.77 L318.18,64.10 L318.68,64.44 L319.17,64.80 L319.65,65.17 L320.12,65.56 L320.59,65.95 L321.04,66.36 L321.49,66.78 L321.94,67.21 L322.37,67.65 L322.80,68.10 L323.23,68.55 L323.65,69.02 L324.07,69.49 L324.48,69.97 L324.89,70.46 L325.29,70.95 L325.70,71.44 L326.10,71.94 L326.49,72.45 L326.89,72.96 L327.28,73.47 L327.68,73.98 L328.07,74.50 L328.46,75.01 L328.86,75.53 L329.25,76.04 L329.65,76.56 L330.04,77.07 L330.44,77.58 L330.84,78.09 L331.25,78.60 L331.65,79.10 L332.06,79.59 L332.48,80.08 L332.89,80.57 L333.32,81.05 L333.74,81.53 L334.17,82.00 L334.61,82.46 L335.05,82.92 L335.49,83.38 L335.93,83.83 L336.38,84.27 L336.84,84.71 L337.29,85.14 L337.76,85.57 L338.22,85.99 L338.69,86.41 L339.16,86.82 L339.64,87.23 L340.12,87.63 L340.60,88.03 L341.09,88.42 L341.57,88.81 L342.07,89.19 L342.56,89.57 L343.06,89.94 L343.57,90.31 L344.07,90.67 L344.58,91.03 L345.10,91.38 L345.61,91.72 L346.13,92.07 L346.65,92.40 L347.18,92.74 L347.71,93.06 L348.24,93.39 L348.77,93.70 L349.31,94.02 L349.85,94.33 L350.39,94.63 L350.94,94.93 L351.48,95.22 L352.03,95.51 L352.59,95.79 L353.14,96.07 L353.70,96.35 L354.26,96.62 L354.83,96.88 L355.39,97.15 L355.96,97.40 L356.53,97.65 L357.11,97.90 L357.68,98.14 L358.26,98.38 L358.84,98.61 L359.43,98.84 L360.01,99.07 L360.60,99.29 L361.19,99.50 L361.78,99.71 L362.37,99.92 L362.97,100.12 L363.56,100.32 L364.16,100.51 L364.77,100.70 L365.37,100.89 L365.97,101.07 L366.58,101.24 L367.19,101.41 L367.80,101.58 L368.41,101.74 L369.03,101.90 L369.64,102.06 L370.26,102.21 L370.88,102.35 L371.50,102.49 L372.12,102.63 L372.74,102.76 L373.37,102.89 L373.99,103.02 L374.62,103.14 L375.25,103.25 L375.88,103.37 L376.51,103.48 L377.14,103.58 L377.78,103.68 L378.41,103.78 L379.05,103.87 L379.68,103.96 L380.32,104.04 L380.96,104.12 L381.60,104.20 L382.24,104.27 L382.88,104.34 L383.52,104.41 L384.17,104.47 L384.81,104.52 L385.45,104.58 L386.10,104.63 L386.75,104.67 L387.39,104.71 L388.04,104.75 L388.69,104.79 L389.34,104.82 L389.98,104.84 L390.63,104.87 L391.28,104.89 L391.93,104.90 L392.58,104.91 L393.23,104.92 L393.88,104.93" fill="none" stroke="#70b070" stroke-width="1.0"/>
<path d="M294.05,61.30 L294.79,61.28 L295.51,61.10 L296.21,60.89 L296.89,60.65 L297.56,60.38 L298.21,60.09 L298.84,59.77 L299.47,59.43 L300.08,59.07 L300.67,58.68 L301.25,58.27 L301.82,57.84 L302.38,57.39 L302.93,56.93 L303.47,56.44 L304.00,55.94 L304.52,55.43 L305.03,54.90 L305.54,54.36 L306.04,53.80 L306.53,53.24 L307.02,52.66 L307.50,52.07 L307.98,51.48 L308.45,50.88 L308.92,50.27 L309.39,49.66 L309.86,49.04 L310.32,48.42 L310.79,47.80 L311.25,47.17 L311.72,46.55 L312.19,45.93 L312.66,45.31 L313.13,44.69 L313.60,44.07 L314.08,43.46 L314.57,42.86 L315.05,42.26 L315.55,41.67 L316.05,41.09 L316.56,40.52 L317.07,39.96 L317.59,39.40 L318.11,38.85 L318.64,38.31 L319.17,37.78 L319.71,37.25 L320.26,36.74 L320.81,36.23 L321.37,35.73 L321.93,35.23 L322.50,34.75 L323.07,34.27 L323.65,33.80 L324.23,33.33 L324.82,32.88 L325.41,32.43 L326.01,31.99 L326.61,31.55 L327.22,31.13 L327.83,30.71 L328.44,30.29 L329.06,29.89 L329.69,29.49 L330.31,29.10 L330.95,28.71 L331.58,28.33 L332.23,27.96 L332.87,27.60 L333.52,27.24 L334.17,26.89 L334.83,26.55 L335.49,26.21 L336.16,25.88 L336.82,25.55 L337.50,25.23 L338.17,24.92 L338.85,24.62 L339.53,24.32 L340.22,24.02 L340.91,23.73 L341.60,23.45 L342.29,23.18 L342.99,22.91 L343.69,22.65 L344.40,22.39 L345.10,22.14 L345.81,21.89 L346.52,21.65 L347.24,21.42 L347.96,21.19 L348.68,20.96 L349.40,20.75 L350.12,20.53 L350.85,20.33 L351.58,20.13 L352.31,19.93 L353.04,19.74 L353.78,19.55 L354.52,19.37 L355.26,19.20 L356.00,19.03 L356.74,18.86 L357.49,18.70 L358.23,18.54 L358.98,18.39 L359.73,18.25 L360.48,18.11 L361.23,17.97 L361.99,17.84 L362.74,17.71 L363.50,17.59 L364.25,17.47 L365.01,17.36 L365.77,17.25 L366.53,17.14 L367.29,17.04 L368.05,16.95 L368.81,16.85 L369.58,16.77 L370.34,16.68 L371.10,16.60 L371.87,16.53 L372.63,16.45 L373.40,16.39 L374.16,16.32 L374.93,16.26 L375.69,16.20 L376.46,16.15 L377.22,16.10 L377.99,16.06 L378.76,16.01 L379.52,15.97 L380.28,15.94 L381.05,15.91 L381.81,15.88 L382.58,15.85 L383.34,15.83 L384.10,15.81 L384.86,15.79 L385.62,15.78 L386.38,15.77 L387.14,15.76 L387.90,15.76 L388.65,15.76 L389.41,15.76 L390.16,15.76 L390.92,15.77 L391.67,15.78 L392.42,15.79 L393.17,15.81 L393.91,15.83 L394.66,15.84" fill="none" stroke="#ebb0b0" stroke-width="1.0"/>
<path d="M294.05,61.30 L294.79,61.32 L295.51,61.50 L296.21,61.71 L296.89,61.95 L297.56,62.22 L298.21,62.51 L298.84,62.83 L299.47,63.17 L300.08,63.53 L300.67,63.92 L301.25,64.33 L301.82,64.76 L302.38,65.21 L302.93,65.67 L303.47,66.16 L304.00,66.66 L304.52,67.17 L305.03,67.70 L305.54,68.24 L306.04,68.80 L306.53,69.36 L307.02,69.94 L307.50,70.53 L307.98,71.12 L308.45,71.72 L308.92,72.33 L309.39,72.94 L309.86,73.56 L310.32,74.18 L310.79,74.80 L311.25,75.43 L311.72,76.05 L312.19,76.67 L312.66,77.29 L313.13,77.91 L313.60,78.53 L314.08,79.14 L314.57,79.74 L315.05,80.34 L315.55,80.93 L316.05,81.51 L316.56,82.08 L317.07,82.64 L317.59,83.20 L318.11,83.75 L318.64,84.29 L319.17,84.82 L319.71,85.35 L320.26,85.86 L320.81,86.37 L321.37,86.87 L321.93,87.37 L322.50,87.85 L323.07,88.33 L323.65,88.80 L324.23,89.27 L324.82,89.72 L325.41,90.17 L326.01,90.61 L326.61,91.05 L327.22,91.47 L327.83,91.89 L328.44,92.31 L329.06,92.71 L329.69,93.11 L330.31,93.50 L330.95,93.89 L331.58,94.27 L332.23,94.64 L332.87,95.00 L333.52,95.36 L334.17,95.71 L334.83,96.05 L335.49,96.39 L336.16,96.72 L336.82,97.05 L337.50,97.37 L338.17,97.68 L338.85,97.98 L339.53,98.28 L340.22,98.58 L340.91,98.87 L341.60,99.15 L342.29,99.42 L342.99,99.69 L343.69,99.95 L344.40,100.21 L345.10,100.46 L345.81,100.71 L346.52,100.95 L347.24,101.18 L347.96,101.41 L348.68,101.64 L349.40,101.85 L350.12,102.07 L350.85,102.27 L351.58,102.47 L352.31,102.67 L353.04,102.86 L353.78,103.05 L354.52,103.23 L355.26,103.40 L356.00,103.57 L356.74,103.74 L357.49,103.90 L358.23,104.06 L358.98,104.21 L359.73,104.35 L360.48,104.49 L361.23,104.63 L361.99,104.76 L362.74,104.89 L363.50,105.01 L364.25,105.13 L365.01,105.24 L365.77,105.35 L366.53,105.46 L367.29,105.56 L368.05,105.65 L368.81,105.75 L369.58,105.83 L370.34,105.92 L371.10,106.00 L371.87,106.07 L372.63,106.15 L373.40,106.21 L374.16,106.28 L374.93,106.34 L375.69,106.40 L376.46,106.45 L377.22,106.50 L377.99,106.54 L378.76,106.59 L379.52,106.63 L380.28,106.66 L381.05,106.69 L381.81,106.72 L382.58,106.75 L383.34,106.77 L384.10,106.79 L384.86,106.81 L385.62,106.82 L386.38,106.83 L387.14,106.84 L387.90,106.84 L388.65,106.84 L389.41,106.84 L390.16,106.84 L390.92,106.83 L391.67,106.82 L392.42,106.81 L393.17,106.79 L393.91,106.77 L394.66,106.76" fill="none" stroke="#ebb0b0" stroke-width="1.0"/>
<path d="M287.00,61.30 L287.92,61.30 L288.82,61.26 L289.69,61.04 L290.54,60.79 L291.37,60.49 L292.18,60.16 L292.97,59.79 L293.74,59.39 L294.49,58.96 L295.23,58.49 L295.94,58.00 L296.65,57.47 L297.33,56.93 L298.01,56.35 L298.67,55.76 L299.32,55.14 L299.96,54.50 L300.59,53.85 L301.21,53.17 L301.82,52.49 L302.43,51.79 L303.03,51.07 L303.62,50.35 L304.21,49.62 L304.80,48.88 L305.38,48.13 L305.97,47.38 L306.55,46.63 L307.13,45.88 L307.72,45.13 L308.30,44.38 L308.89,43.63 L309.49,42.89 L310.08,42.15 L310.69,41.43 L311.30,40.71 L311.92,40.01 L312.55,39.32 L313.18,38.64 L313.83,37.97 L314.48,37.31 L315.13,36.67 L315.80,36.04 L316.47,35.41 L317.15,34.80 L317.84,34.20 L318.54,33.62 L319.24,33.04 L319.95,32.47 L320.66,31.92 L321.38,31.37 L322.11,30.84 L322.85,30.32 L323.59,29.81 L324.34,29.30 L325.09,28.81 L325.85,28.33 L326.62,27.86 L327.39,27.40 L328.17,26.94 L328.96,26.50 L329.74,26.07 L330.54,25.65 L331.34,25.23 L332.15,24.83 L332.96,24.43 L333.77,24.05 L334.59,23.67 L335.42,23.30 L336.25,22.94 L337.09,22.59 L337.93,22.25 L338.77,21.91 L339.62,21.59 L340.47,21.27 L341.33,20.96 L342.19,20.66 L343.06,20.37 L343.93,20.08 L344.80,19.81 L345.68,19.54 L346.56,19.28 L347.44,19.02 L348.33,18.78 L349.22,18.54 L350.11,18.30 L351.01,18.08 L351.91,17.86 L352.81,17.65 L353.72,17.44 L354.63,17.25 L355.54,17.05 L356.45,16.87 L357.37,16.69 L358.28,16.52 L359.20,16.35 L360.13,16.19 L361.05,16.04 L361.98,15.89 L362.90,15.74 L363.83,15.61 L364.76,15.48 L365.70,15.35 L366.63,15.23 L367.57,15.11 L368.50,15.00 L369.44,14.90 L370.38,14.80 L371.32,14.70 L372.26,14.61 L373.20,14.52 L374.14,14.44 L375.08,14.36 L376.02,14.29 L376.97,14.22 L377.91,14.16 L378.85,14.10 L379.79,14.04 L380.74,13.98 L381.68,13.94 L382.62,13.89 L383.56,13.85 L384.50,13.81 L385.44,13.77 L386.38,13.74 L387.32,13.71 L388.26,13.68 L389.20,13.66 L390.13,13.64 L391.07,13.62 L392.00,13.60 L392.93,13.59 L393.86,13.58 L394.79,13.57 L395.72,13.57 L396.64,13.56 L397.57,13.56 L398.49,13.56 L399.41,13.56 L400.32,13.56 L401.24,13.57 L402.15,13.57 L403.06,13.58 L403.96,13.59 L404.87,13.60 L405.77,13.61 L406.67,13.62 L407.56,13.63 L408.45,13.65 L409.34,13.66 L410.23,13.67 L411.11,13.69 L411.99,13.70 L412.86,13.72 L413.73,13.73" fill="none" stroke="#a87050" stroke-width="1.0"/>
<path d="M287.00,61.30 L287.92,61.30 L288.82,61.34 L289.69,61.56 L290.54,61.81 L291.37,62.11 L292.18,62.44 L292.97,62.81 L293.74,63.21 L294.49,63.64 L295.23,64.11 L295.94,64.60 L296.65,65.13 L297.33,65.67 L298.01,66.25 L298.67,66.84 L299.32,67.46 L299.96,68.10 L300.59,68.75 L301.21,69.43 L301.82,70.11 L302.43,70.81 L303.03,71.53 L303.62,72.25 L304.21,72.98 L304.80,73.72 L305.38,74.47 L305.97,75.22 L306.55,75.97 L307.13,76.72 L307.72,77.47 L308.30,78.22 L308.89,78.97 L309.49,79.71 L310.08,80.45 L310.69,81.17 L311.30,81.89 L311.92,82.59 L312.55,83.28 L313.18,83.96 L313.83,84.63 L314.48,85.29 L315.13,85.93 L315.80,86.56 L316.47,87.19 L317.15,87.80 L317.84,88.40 L318.54,88.98 L319.24,89.56 L319.95,90.13 L320.66,90.68 L321.38,91.23 L322.11,91.76 L322.85,92.28 L323.59,92.79 L324.34,93.30 L325.09,93.79 L325.85,94.27 L326.62,94.74 L327.39,95.20 L328.17,95.66 L328.96,96.10 L329.74,96.53 L330.54,96.95 L331.34,97.37 L332.15,97.77 L332.96,98.17 L333.77,98.55 L334.59,98.93 L335.42,99.30 L336.25,99.66 L337.09,100.01 L337.93,100.35 L338.77,100.69 L339.62,101.01 L340.47,101.33 L341.33,101.64 L342.19,101.94 L343.06,102.23 L343.93,102.52 L344.80,102.79 L345.68,103.06 L346.56,103.32 L347.44,103.58 L348.33,103.82 L349.22,104.06 L350.11,104.30 L351.01,104.52 L351.91,104.74 L352.81,104.95 L353.72,105.16 L354.63,105.35 L355.54,105.55 L356.45,105.73 L357.37,105.91 L358.28,106.08 L359.20,106.25 L360.13,106.41 L361.05,106.56 L361.98,106.71 L362.90,106.86 L363.83,106.99 L364.76,107.12 L365.70,107.25 L366.63,107.37 L367.57,107.49 L368.50,107.60 L369.44,107.70 L370.38,107.80 L371.32,107.90 L372.26,107.99 L373.20,108.08 L374.14,108.16 L375.08,108.24 L376.02,108.31 L376.97,108.38 L377.91,108.44 L378.85,108.50 L379.79,108.56 L380.74,108.62 L381.68,108.66 L382.62,108.71 L383.56,108.75 L384.50,108.79 L385.44,108.83 L386.38,108.86 L387.32,108.89 L388.26,108.92 L389.20,108.94 L390.13,108.96 L391.07,108.98 L392.00,109.00 L392.93,109.01 L393.86,109.02 L394.79,109.03 L395.72,109.03 L396.64,109.04 L397.57,109.04 L398.49,109.04 L399.41,109.04 L400.32,109.04 L401.24,109.03 L402.15,109.03 L403.06,109.02 L403.96,109.01 L404.87,109.00 L405.77,108.99 L406.67,108.98 L407.56,108.97 L408.45,108.95 L409.34,108.94 L410.23,108.93 L411.11,108.91 L411.99,108.90 L412.86,108.88 L413.73,108.87" fill="none" stroke="#a87050" stroke-width="1.0"/>
<path d="M277.59,61.17 L278.63,60.82 L279.62,60.41 L280.56,59.93 L281.46,59.40 L282.33,58.81 L283.16,58.17 L283.96,57.48 L284.73,56.75 L285.47,55.98 L286.19,55.17 L286.88,54.33 L287.56,53.47 L288.22,52.57 L288.87,51.66 L289.51,50.73 L290.15,49.79 L290.78,48.83 L291.40,47.87 L292.03,46.91 L292.67,45.95 L293.30,44.99 L293.94,44.03 L294.59,43.08 L295.25,42.14 L295.91,41.19 L296.58,40.26 L297.26,39.34 L297.94,38.42 L298.64,37.52 L299.34,36.63 L300.06,35.75 L300.79,34.89 L301.53,34.04 L302.28,33.20 L303.05,32.39 L303.83,31.59 L304.63,30.81 L305.44,30.06 L306.27,29.32 L307.11,28.61 L307.97,27.92 L308.85,27.26 L309.74,26.61 L310.65,25.99 L311.58,25.39 L312.52,24.82 L313.47,24.26 L314.44,23.72 L315.42,23.21 L316.41,22.71 L317.41,22.23 L318.43,21.77 L319.45,21.33 L320.49,20.90 L321.54,20.49 L322.60,20.10 L323.66,19.72 L324.74,19.36 L325.82,19.01 L326.91,18.67 L328.00,18.35 L329.11,18.04 L330.22,17.75 L331.33,17.46 L332.45,17.19 L333.57,16.93 L334.70,16.68 L335.83,16.43 L336.96,16.20 L338.09,15.97 L339.23,15.76 L340.37,15.55 L341.51,15.34 L342.65,15.15 L343.78,14.96 L344.92,14.77 L346.06,14.60 L347.19,14.42 L348.32,14.25 L349.46,14.09 L350.59,13.93 L351.72,13.77 L352.85,13.62 L353.97,13.47 L355.10,13.33 L356.23,13.20 L357.35,13.06 L358.48,12.93 L359.60,12.81 L360.72,12.69 L361.84,12.57 L362.96,12.46 L364.08,12.35 L365.20,12.25 L366.32,12.15 L367.44,12.05 L368.56,11.95 L369.68,11.86 L370.80,11.78 L371.91,11.69 L373.03,11.61 L374.14,11.54 L375.26,11.46 L376.38,11.39 L377.49,11.33 L378.61,11.26 L379.72,11.20 L380.84,11.14 L381.95,11.09 L383.07,11.03 L384.18,10.98 L385.30,10.94 L386.41,10.89 L387.53,10.85 L388.64,10.81 L389.76,10.77 L390.88,10.73 L391.99,10.70 L393.11,10.67 L394.23,10.64 L395.34,10.61 L396.46,10.59 L397.58,10.56 L398.70,10.54 L399.82,10.52 L400.94,10.50 L402.06,10.48 L403.18,10.47 L404.30,10.45 L405.43,10.44 L406.55,10.42 L407.68,10.41 L408.80,10.40 L409.93,10.39 L411.06,10.39 L412.19,10.38 L413.31,10.37 L414.45,10.37 L415.58,10.36 L416.71,10.36 L417.85,10.36 L418.98,10.35 L420.12,10.35 L421.26,10.35 L422.40,10.34 L423.54,10.34 L424.68,10.34 L425.82,10.34 L426.97,10.34 L428.12,10.33 L429.27,10.33 L430.42,10.33 L431.57,10.33 L432.72,10.32 L433.88,10.32 L435.03,10.32" fill="none" stroke="#262626" stroke-width="1.1"/>
<path d="M277.59,61.43 L278.63,61.78 L279.62,62.19 L280.56,62.67 L281.46,63.20 L282.33,63.79 L283.16,64.43 L283.96,65.12 L284.73,65.85 L285.47,66.62 L286.19,67.43 L286.88,68.27 L287.56,69.13 L288.22,70.03 L288.87,70.94 L289.51,71.87 L290.15,72.81 L290.78,73.77 L291.40,74.73 L292.03,75.69 L292.67,76.65 L293.30,77.61 L293.94,78.57 L294.59,79.52 L295.25,80.46 L295.91,81.41 L296.58,82.34 L297.26,83.26 L297.94,84.18 L298.64,85.08 L299.34,85.97 L300.06,86.85 L300.79,87.71 L301.53,88.56 L302.28,89.40 L303.05,90.21 L303.83,91.01 L304.63,91.79 L305.44,92.54 L306.27,93.28 L307.11,93.99 L307.97,94.68 L308.85,95.34 L309.74,95.99 L310.65,96.61 L311.58,97.21 L312.52,97.78 L313.47,98.34 L314.44,98.88 L315.42,99.39 L316.41,99.89 L317.41,100.37 L318.43,100.83 L319.45,101.27 L320.49,101.70 L321.54,102.11 L322.60,102.50 L323.66,102.88 L324.74,103.24 L325.82,103.59 L326.91,103.93 L328.00,104.25 L329.11,104.56 L330.22,104.85 L331.33,105.14 L332.45,105.41 L333.57,105.67 L334.70,105.92 L335.83,106.17 L336.96,106.40 L338.09,106.63 L339.23,106.84 L340.37,107.05 L341.51,107.26 L342.65,107.45 L343.78,107.64 L344.92,107.83 L346.06,108.00 L347.19,108.18 L348.32,108.35 L349.46,108.51 L350.59,108.67 L351.72,108.83 L352.85,108.98 L353.97,109.13 L355.10,109.27 L356.23,109.40 L357.35,109.54 L358.48,109.67 L359.60,109.79 L360.72,109.91 L361.84,110.03 L362.96,110.14 L364.08,110.25 L365.20,110.35 L366.32,110.45 L367.44,110.55 L368.56,110.65 L369.68,110.74 L370.80,110.82 L371.91,110.91 L373.03,110.99 L374.14,111.06 L375.26,111.14 L376.38,111.21 L377.49,111.27 L378.61,111.34 L379.72,111.40 L380.84,111.46 L381.95,111.51 L383.07,111.57 L384.18,111.62 L385.30,111.66 L386.41,111.71 L387.53,111.75 L388.64,111.79 L389.76,111.83 L390.88,111.87 L391.99,111.90 L393.11,111.93 L394.23,111.96 L395.34,111.99 L396.46,112.01 L397.58,112.04 L398.70,112.06 L399.82,112.08 L400.94,112.10 L402.06,112.12 L403.18,112.13 L404.30,112.15 L405.43,112.16 L406.55,112.18 L407.68,112.19 L408.80,112.20 L409.93,112.21 L411.06,112.21 L412.19,112.22 L413.31,112.23 L414.45,112.23 L415.58,112.24 L416.71,112.24 L417.85,112.24 L418.98,112.25 L420.12,112.25 L421.26,112.25 L422.40,112.26 L423.54,112.26 L424.68,112.26 L425.82,112.26 L426.97,112.26 L428.12,112.27 L429.27,112.27 L430.42,112.27 L431.57,112.27 L432.72,112.28 L433.88,112.28 L435.03,112.28" fill="none" stroke="#262626" stroke-width="1.1"/>
<text transform="translate(45.8 144.6) scale(1.102 1)" font-size="14.9" font-weight="bold" font-family="Liberation Sans, sans-serif">Untreated whole blood</text>
<text transform="translate(261.4 144.6) scale(1.10 1)" font-size="14.9" font-weight="bold" font-family="Liberation Sans, sans-serif">Antibody-treated whole blood</text>
<text x="0.9" y="199.7" font-size="19.5" font-weight="bold" font-family="Liberation Sans, sans-serif">B</text>
<rect x="35.3" y="227.2" width="131.4" height="32.0" fill="#9e9e9e"/>
<rect x="35.3" y="284.2" width="131.4" height="5.2" fill="#aaaaaa"/>
<line x1="35.3" y1="243.5" x2="166.7" y2="243.5" stroke="#000" stroke-width="3.2"/>
<line x1="35.3" y1="287.0" x2="164.9" y2="287.0" stroke="#000" stroke-width="2.2" stroke-dasharray="11.5 6" stroke-dashoffset="0.8"/>
<line x1="35.3" y1="211.5" x2="35.3" y2="327.3" stroke="#000" stroke-width="2"/>
<line x1="29.8" y1="323.0" x2="165.9" y2="323.0" stroke="#000" stroke-width="2.2"/>
<line x1="35.3" y1="323.0" x2="35.3" y2="327.3" stroke="#000" stroke-width="2"/>
<line x1="67.7" y1="323.0" x2="67.7" y2="327.3" stroke="#000" stroke-width="2"/>
<line x1="100.1" y1="323.0" x2="100.1" y2="327.3" stroke="#000" stroke-width="2"/>
<line x1="132.5" y1="323.0" x2="132.5" y2="327.3" stroke="#000" stroke-width="2"/>
<line x1="164.9" y1="323.0" x2="164.9" y2="327.3" stroke="#000" stroke-width="2"/>
<line x1="30.0" y1="323.0" x2="35.3" y2="323.0" stroke="#000" stroke-width="2"/>
<line x1="30.0" y1="285.8" x2="35.3" y2="285.8" stroke="#000" stroke-width="2"/>
<line x1="30.0" y1="248.7" x2="35.3" y2="248.7" stroke="#000" stroke-width="2"/>
<line x1="30.0" y1="211.5" x2="35.3" y2="211.5" stroke="#000" stroke-width="2"/>
<text x="28.3" y="326.2" font-size="12.5" text-anchor="end" font-family="Liberation Sans, sans-serif">0</text>
<text x="28.3" y="289.0" font-size="12.5" text-anchor="end" font-family="Liberation Sans, sans-serif">10</text>
<text x="28.3" y="251.9" font-size="12.5" text-anchor="end" font-family="Liberation Sans, sans-serif">20</text>
<text x="28.3" y="214.7" font-size="12.5" text-anchor="end" font-family="Liberation Sans, sans-serif">30</text>
<text x="35.0" y="339.8" font-size="12.5" text-anchor="middle" font-family="Liberation Sans, sans-serif">0.01</text>
<text x="67.4" y="339.8" font-size="12.5" text-anchor="middle" font-family="Liberation Sans, sans-serif">0.1</text>
<text x="99.8" y="339.8" font-size="12.5" text-anchor="middle" font-family="Liberation Sans, sans-serif">1</text>
<text x="132.2" y="339.8" font-size="12.5" text-anchor="middle" font-family="Liberation Sans, sans-serif">10</text>
<text x="164.6" y="339.8" font-size="12.5" text-anchor="middle" font-family="Liberation Sans, sans-serif">100</text>
<text x="100.1" y="351.6" font-size="12.8" text-anchor="middle" font-family="Liberation Sans, sans-serif">[ARC19499] (nM)</text>
<text x="9.2" y="267.0" font-size="13" text-anchor="middle" transform="rotate(-90 9.2 267.0)" font-family="Liberation Sans, sans-serif">R-value (min)</text>
<polyline points="35.3,236.8 67.7,258.1 100.1,253.6 132.5,270.2 164.9,277.0" fill="none" stroke="#000" stroke-width="2.2" stroke-linejoin="round"/>
<line x1="35.3" y1="216.6" x2="35.3" y2="256.0" stroke="#000" stroke-width="2"/>
<line x1="32.2" y1="216.6" x2="38.4" y2="216.6" stroke="#000" stroke-width="2"/>
<line x1="32.2" y1="256.0" x2="38.4" y2="256.0" stroke="#000" stroke-width="2"/>
<path d="M35.3,233.6 l3.2,3.2 l-3.2,3.2 l-3.2,-3.2 z" fill="#000"/>
<line x1="67.7" y1="256.0" x2="67.7" y2="260.3" stroke="#000" stroke-width="2"/>
<line x1="64.6" y1="256.0" x2="70.8" y2="256.0" stroke="#000" stroke-width="2"/>
<line x1="64.6" y1="260.3" x2="70.8" y2="260.3" stroke="#000" stroke-width="2"/>
<path d="M67.7,254.9 l3.2,3.2 l-3.2,3.2 l-3.2,-3.2 z" fill="#000"/>
<line x1="100.1" y1="247.4" x2="100.1" y2="260.4" stroke="#000" stroke-width="2"/>
<line x1="97.0" y1="247.4" x2="103.2" y2="247.4" stroke="#000" stroke-width="2"/>
<line x1="97.0" y1="260.4" x2="103.2" y2="260.4" stroke="#000" stroke-width="2"/>
<path d="M100.1,250.4 l3.2,3.2 l-3.2,3.2 l-3.2,-3.2 z" fill="#000"/>
<line x1="132.5" y1="262.8" x2="132.5" y2="277.6" stroke="#000" stroke-width="2"/>
<line x1="129.4" y1="262.8" x2="135.6" y2="262.8" stroke="#000" stroke-width="2"/>
<line x1="129.4" y1="277.6" x2="135.6" y2="277.6" stroke="#000" stroke-width="2"/>
<path d="M132.5,267.0 l3.2,3.2 l-3.2,3.2 l-3.2,-3.2 z" fill="#000"/>
<line x1="164.9" y1="270.2" x2="164.9" y2="282.9" stroke="#000" stroke-width="2"/>
<line x1="161.8" y1="270.2" x2="168.0" y2="270.2" stroke="#000" stroke-width="2"/>
<line x1="161.8" y1="282.9" x2="168.0" y2="282.9" stroke="#000" stroke-width="2"/>
<path d="M164.9,273.8 l3.2,3.2 l-3.2,3.2 l-3.2,-3.2 z" fill="#000"/>
<rect x="207.2" y="219.7" width="131.4" height="18.2" fill="#9e9e9e"/>
<rect x="207.2" y="246.6" width="131.4" height="27.3" fill="#9e9e9e"/>
<line x1="207.2" y1="260.5" x2="338.6" y2="260.5" stroke="#000" stroke-width="3.2"/>
<line x1="207.2" y1="228.5" x2="336.8" y2="228.5" stroke="#000" stroke-width="2.2" stroke-dasharray="11.3 5.8" stroke-dashoffset="0.2"/>
<line x1="207.2" y1="211.5" x2="207.2" y2="327.3" stroke="#000" stroke-width="2"/>
<line x1="201.7" y1="323.0" x2="337.8" y2="323.0" stroke="#000" stroke-width="2.2"/>
<line x1="207.2" y1="323.0" x2="207.2" y2="327.3" stroke="#000" stroke-width="2"/>
<line x1="239.6" y1="323.0" x2="239.6" y2="327.3" stroke="#000" stroke-width="2"/>
<line x1="272.0" y1="323.0" x2="272.0" y2="327.3" stroke="#000" stroke-width="2"/>
<line x1="304.4" y1="323.0" x2="304.4" y2="327.3" stroke="#000" stroke-width="2"/>
<line x1="336.8" y1="323.0" x2="336.8" y2="327.3" stroke="#000" stroke-width="2"/>
<line x1="201.9" y1="323.0" x2="207.2" y2="323.0" stroke="#000" stroke-width="2"/>
<line x1="201.9" y1="285.8" x2="207.2" y2="285.8" stroke="#000" stroke-width="2"/>
<line x1="201.9" y1="248.7" x2="207.2" y2="248.7" stroke="#000" stroke-width="2"/>
<line x1="201.9" y1="211.5" x2="207.2" y2="211.5" stroke="#000" stroke-width="2"/>
<text x="200.2" y="326.2" font-size="12.5" text-anchor="end" font-family="Liberation Sans, sans-serif">0</text>
<text x="200.2" y="289.0" font-size="12.5" text-anchor="end" font-family="Liberation Sans, sans-serif">20</text>
<text x="200.2" y="251.9" font-size="12.5" text-anchor="end" font-family="Liberation Sans, sans-serif">40</text>
<text x="200.2" y="214.7" font-size="12.5" text-anchor="end" font-family="Liberation Sans, sans-serif">60</text>
<text x="206.9" y="339.8" font-size="12.5" text-anchor="middle" font-family="Liberation Sans, sans-serif">0.01</text>
<text x="239.3" y="339.8" font-size="12.5" text-anchor="middle" font-family="Liberation Sans, sans-serif">0.1</text>
<text x="271.7" y="339.8" font-size="12.5" text-anchor="middle" font-family="Liberation Sans, sans-serif">1</text>
<text x="304.1" y="339.8" font-size="12.5" text-anchor="middle" font-family="Liberation Sans, sans-serif">10</text>
<text x="336.5" y="339.8" font-size="12.5" text-anchor="middle" font-family="Liberation Sans, sans-serif">100</text>
<text x="272.0" y="351.6" font-size="12.8" text-anchor="middle" font-family="Liberation Sans, sans-serif">[ARC19499] (nM)</text>
<text x="181.4" y="267.0" font-size="13" text-anchor="middle" transform="rotate(-90 181.4 267.0)" font-family="Liberation Sans, sans-serif">Angle (alpha)</text>
<polyline points="207.2,259.6 239.6,243.5 272.0,249.8 304.4,237.0 336.8,238.8" fill="none" stroke="#000" stroke-width="2.2" stroke-linejoin="round"/>
<line x1="207.2" y1="242.2" x2="207.2" y2="276.4" stroke="#000" stroke-width="2"/>
<line x1="204.1" y1="242.2" x2="210.3" y2="242.2" stroke="#000" stroke-width="2"/>
<line x1="204.1" y1="276.4" x2="210.3" y2="276.4" stroke="#000" stroke-width="2"/>
<path d="M207.2,256.4 l3.2,3.2 l-3.2,3.2 l-3.2,-3.2 z" fill="#000"/>
<line x1="239.6" y1="233.7" x2="239.6" y2="253.3" stroke="#000" stroke-width="2"/>
<line x1="236.5" y1="233.7" x2="242.7" y2="233.7" stroke="#000" stroke-width="2"/>
<line x1="236.5" y1="253.3" x2="242.7" y2="253.3" stroke="#000" stroke-width="2"/>
<path d="M239.6,240.3 l3.2,3.2 l-3.2,3.2 l-3.2,-3.2 z" fill="#000"/>
<line x1="272.0" y1="242.9" x2="272.0" y2="257.1" stroke="#000" stroke-width="2"/>
<line x1="268.9" y1="242.9" x2="275.1" y2="242.9" stroke="#000" stroke-width="2"/>
<line x1="268.9" y1="257.1" x2="275.1" y2="257.1" stroke="#000" stroke-width="2"/>
<path d="M272.0,246.6 l3.2,3.2 l-3.2,3.2 l-3.2,-3.2 z" fill="#000"/>
<line x1="304.4" y1="231.8" x2="304.4" y2="244.4" stroke="#000" stroke-width="2"/>
<line x1="301.3" y1="231.8" x2="307.5" y2="231.8" stroke="#000" stroke-width="2"/>
<line x1="301.3" y1="244.4" x2="307.5" y2="244.4" stroke="#000" stroke-width="2"/>
<path d="M304.4,233.8 l3.2,3.2 l-3.2,3.2 l-3.2,-3.2 z" fill="#000"/>
<line x1="336.8" y1="228.8" x2="336.8" y2="249.4" stroke="#000" stroke-width="2"/>
<line x1="333.7" y1="228.8" x2="339.9" y2="228.8" stroke="#000" stroke-width="2"/>
<line x1="333.7" y1="249.4" x2="339.9" y2="249.4" stroke="#000" stroke-width="2"/>
<path d="M336.8,235.6 l3.2,3.2 l-3.2,3.2 l-3.2,-3.2 z" fill="#000"/>
<rect x="380.3" y="229.6" width="131.4" height="17.0" fill="#9e9e9e"/>
<rect x="380.3" y="233.3" width="131.4" height="5.0" fill="#b2b2b2"/>
<line x1="380.3" y1="240.0" x2="511.7" y2="240.0" stroke="#000" stroke-width="3.2"/>
<line x1="380.3" y1="231.8" x2="509.9" y2="231.8" stroke="#000" stroke-width="2.2" stroke-dasharray="11.9 5.25" stroke-dashoffset="0.9"/>
<line x1="380.3" y1="211.5" x2="380.3" y2="327.3" stroke="#000" stroke-width="2"/>
<line x1="374.8" y1="323.0" x2="510.9" y2="323.0" stroke="#000" stroke-width="2.2"/>
<line x1="380.3" y1="323.0" x2="380.3" y2="327.3" stroke="#000" stroke-width="2"/>
<line x1="412.7" y1="323.0" x2="412.7" y2="327.3" stroke="#000" stroke-width="2"/>
<line x1="445.1" y1="323.0" x2="445.1" y2="327.3" stroke="#000" stroke-width="2"/>
<line x1="477.5" y1="323.0" x2="477.5" y2="327.3" stroke="#000" stroke-width="2"/>
<line x1="509.9" y1="323.0" x2="509.9" y2="327.3" stroke="#000" stroke-width="2"/>
<line x1="376.0" y1="323.0" x2="380.3" y2="323.0" stroke="#000" stroke-width="2"/>
<line x1="376.0" y1="307.1" x2="380.3" y2="307.1" stroke="#000" stroke-width="2"/>
<line x1="376.0" y1="291.1" x2="380.3" y2="291.1" stroke="#000" stroke-width="2"/>
<line x1="376.0" y1="275.2" x2="380.3" y2="275.2" stroke="#000" stroke-width="2"/>
<line x1="376.0" y1="259.3" x2="380.3" y2="259.3" stroke="#000" stroke-width="2"/>
<line x1="376.0" y1="243.4" x2="380.3" y2="243.4" stroke="#000" stroke-width="2"/>
<line x1="376.0" y1="227.4" x2="380.3" y2="227.4" stroke="#000" stroke-width="2"/>
<line x1="376.0" y1="211.5" x2="380.3" y2="211.5" stroke="#000" stroke-width="2"/>
<text x="373.3" y="326.2" font-size="12.5" text-anchor="end" font-family="Liberation Sans, sans-serif">0</text>
<text x="373.3" y="294.3" font-size="12.5" text-anchor="end" font-family="Liberation Sans, sans-serif">20</text>
<text x="373.3" y="262.5" font-size="12.5" text-anchor="end" font-family="Liberation Sans, sans-serif">40</text>
<text x="373.3" y="230.6" font-size="12.5" text-anchor="end" font-family="Liberation Sans, sans-serif">60</text>
<text x="380.0" y="339.8" font-size="12.5" text-anchor="middle" font-family="Liberation Sans, sans-serif">0.01</text>
<text x="412.4" y="339.8" font-size="12.5" text-anchor="middle" font-family="Liberation Sans, sans-serif">0.1</text>
<text x="444.8" y="339.8" font-size="12.5" text-anchor="middle" font-family="Liberation Sans, sans-serif">1</text>
<text x="477.2" y="339.8" font-size="12.5" text-anchor="middle" font-family="Liberation Sans, sans-serif">10</text>
<text x="509.6" y="339.8" font-size="12.5" text-anchor="middle" font-family="Liberation Sans, sans-serif">100</text>
<text x="445.1" y="351.6" font-size="12.8" text-anchor="middle" font-family="Liberation Sans, sans-serif">[ARC19499] (nM)</text>
<text x="352.9" y="267.0" font-size="13" text-anchor="middle" transform="rotate(-90 352.9 267.0)" font-family="Liberation Sans, sans-serif">MA (min)</text>
<polyline points="380.3,241.7 412.7,239.8 445.1,240.3 477.5,232.3 509.9,234.0" fill="none" stroke="#000" stroke-width="2.2" stroke-linejoin="round"/>
<line x1="380.3" y1="235.9" x2="380.3" y2="247.5" stroke="#000" stroke-width="2"/>
<line x1="377.2" y1="235.9" x2="383.4" y2="235.9" stroke="#000" stroke-width="2"/>
<line x1="377.2" y1="247.5" x2="383.4" y2="247.5" stroke="#000" stroke-width="2"/>
<path d="M380.3,238.5 l3.2,3.2 l-3.2,3.2 l-3.2,-3.2 z" fill="#000"/>
<line x1="412.7" y1="232.6" x2="412.7" y2="245.1" stroke="#000" stroke-width="2"/>
<line x1="409.6" y1="232.6" x2="415.8" y2="232.6" stroke="#000" stroke-width="2"/>
<line x1="409.6" y1="245.1" x2="415.8" y2="245.1" stroke="#000" stroke-width="2"/>
<path d="M412.7,236.6 l3.2,3.2 l-3.2,3.2 l-3.2,-3.2 z" fill="#000"/>
<line x1="445.1" y1="237.9" x2="445.1" y2="244.6" stroke="#000" stroke-width="2"/>
<line x1="442.0" y1="237.9" x2="448.2" y2="237.9" stroke="#000" stroke-width="2"/>
<line x1="442.0" y1="244.6" x2="448.2" y2="244.6" stroke="#000" stroke-width="2"/>
<path d="M445.1,237.1 l3.2,3.2 l-3.2,3.2 l-3.2,-3.2 z" fill="#000"/>
<line x1="477.5" y1="228.7" x2="477.5" y2="235.9" stroke="#000" stroke-width="2"/>
<line x1="474.4" y1="228.7" x2="480.6" y2="228.7" stroke="#000" stroke-width="2"/>
<line x1="474.4" y1="235.9" x2="480.6" y2="235.9" stroke="#000" stroke-width="2"/>
<path d="M477.5,229.1 l3.2,3.2 l-3.2,3.2 l-3.2,-3.2 z" fill="#000"/>
<line x1="509.9" y1="228.9" x2="509.9" y2="239.8" stroke="#000" stroke-width="2"/>
<line x1="506.8" y1="228.9" x2="513.0" y2="228.9" stroke="#000" stroke-width="2"/>
<line x1="506.8" y1="239.8" x2="513.0" y2="239.8" stroke="#000" stroke-width="2"/>
<path d="M509.9,230.8 l3.2,3.2 l-3.2,3.2 l-3.2,-3.2 z" fill="#000"/>
</svg>
</body></html>
